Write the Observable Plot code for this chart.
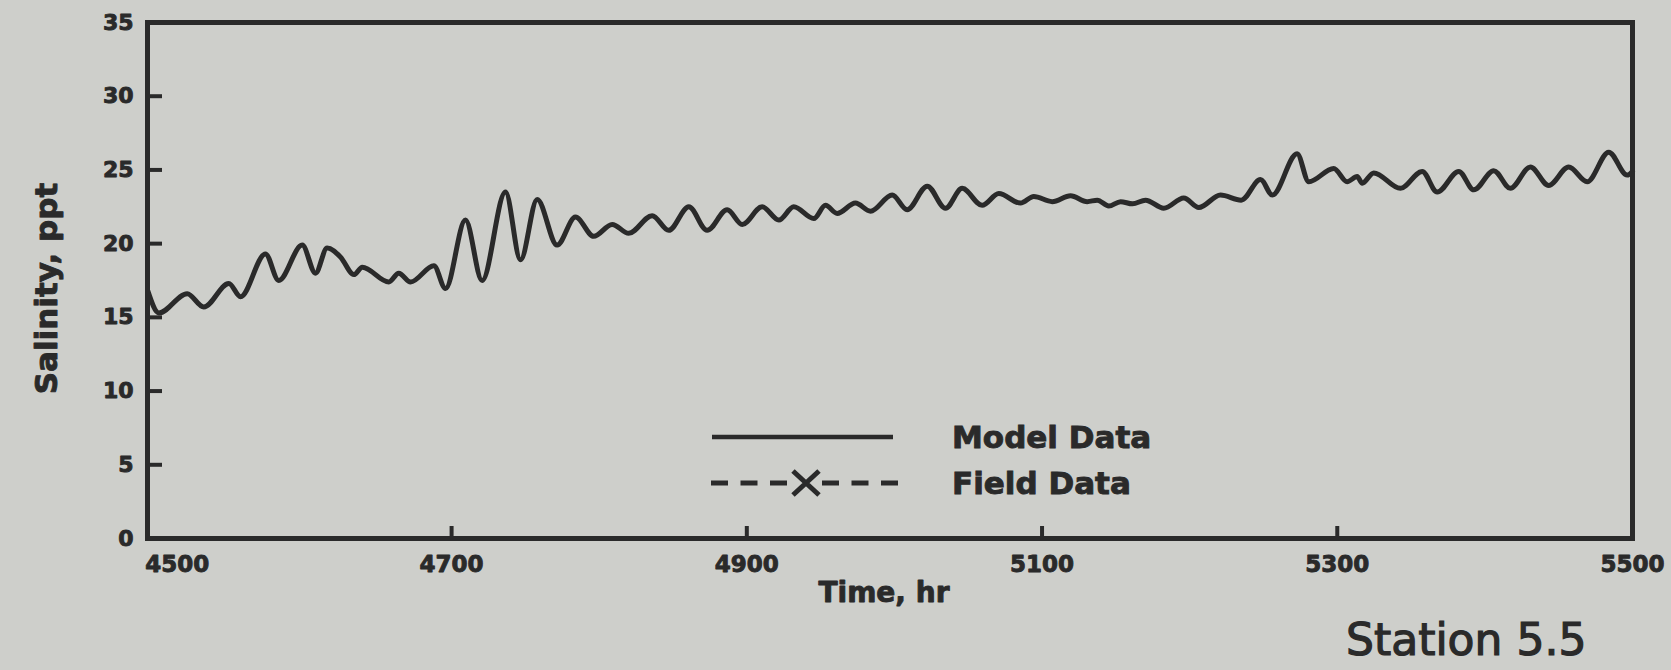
<!DOCTYPE html>
<html><head><meta charset="utf-8">
<script src="https://cdn.jsdelivr.net/npm/d3@7"></script>
<script src="https://cdn.jsdelivr.net/npm/@observablehq/plot@0.6"></script>
<style>
html,body{margin:0;padding:0;background:#cecfcb;}
#wrap{position:relative;width:1671px;height:670px;overflow:hidden;}
#station{position:absolute;left:1346px;top:618px;font-family:"DejaVu Sans";font-size:44px;line-height:44px;color:#2a2a2a;white-space:nowrap;-webkit-text-stroke:1.2px #2a2a2a;}
#legend{position:absolute;left:0;top:0;}
</style></head><body><div id="wrap"></div>
<script>
// ---- data ----
const modelHours = [4494.2,4501.7,4520.9,4532.1,4549.1,4557.0,4573.9,4582.9,4598.8,4607.8,4615.7,4624.7,4633.8,4639.5,4657.5,4664.2,4672.2,
  4688.0,4695.9,4709.4,4720.7,4736.5,4746.7,4758.0,4771.5,4783.9,4796.3,4808.8,4820.0,4835.9,4847.1,4860.7,4873.1,
  4886.7,4896.9,4910.4,4921.7,4931.8,4945.4,4953.3,4961.2,4973.6,4983.8,4998.5,5008.6,5022.2,5034.6,5045.9,5059.4,
  5070.7,5085.4,5094.4,5106.9,5119.3,5130.6,5137.4,5145.2,5153.2,5161.3,5170.1,5182.5,5196.0,5206.2,5220.9,5234.9,5248.0,5256.0,
  5272.8,5280.7,5297.6,5306.7,5313.5,5316.9,5324.7,5342.8,5357.5,5367.7,5382.3,5392.5,5406.0,5417.3,5430.8,5443.2,5456.8,5469.3,5483.9,5496.4,5500.0];
const modelSalinity = [16.8,15.3,16.6,15.7,17.3,16.4,19.3,17.5,19.9,18.0,19.7,19.1,17.9,18.4,17.4,18.0,17.4,
  18.5,16.95,21.6,17.5,23.5,18.9,23.0,19.9,21.8,20.5,21.3,20.7,21.9,20.9,22.5,20.9,
  22.3,21.3,22.5,21.6,22.5,21.7,22.6,22.05,22.75,22.2,23.3,22.3,23.9,22.4,23.75,22.6,
  23.4,22.75,23.2,22.85,23.25,22.85,22.95,22.55,22.85,22.7,22.95,22.4,23.1,22.45,23.3,22.95,24.35,23.3,
  26.1,24.2,25.1,24.2,24.55,24.1,24.8,23.75,24.9,23.5,24.9,23.65,24.95,23.75,25.2,23.95,25.2,24.2,26.2,24.65,24.9];
const fieldHours = [];      // no field observations drawn in this panel
const fieldSalinity = [];
const xTickValues = [4500,4700,4900,5100,5300,5500];
const yTickValues = [0,5,10,15,20,25,30,35];
const xLabel = "Time, hr";
const yLabel = "Salinity, ppt";
const seriesNames = ["Model Data","Field Data"];
const stationLabel = "Station 5.5";

// ---- layout ----
const ink = "#2a2a2a";
const W = 1671, H = 670, mL = 147, mR = 39, mT = 22, mB = 132;
const plotW = W - mL - mR, plotH = H - mT - mB;
const modelData = modelHours.map((t, i) => ({t, s: modelSalinity[i]}));
const fieldData = fieldHours.map((t, i) => ({t, s: fieldSalinity[i]}));
const bold = {fontWeight: "bold", fill: ink, stroke: ink, strokeWidth: 0.9};

const chart = Plot.plot({
  width: W, height: H,
  marginLeft: mL, marginRight: mR, marginTop: mT, marginBottom: mB,
  style: {background: "transparent", color: ink, fontFamily: "DejaVu Sans", overflow: "visible"},
  x: {domain: [4494, 5500], axis: null},
  y: {domain: [0, 35], axis: null},
  marks: [
    Plot.line(modelData, {x: "t", y: "s", curve: "monotone-x", stroke: ink, strokeWidth: 5, strokeLinejoin: "round"}),
    Plot.line(fieldData, {x: "t", y: "s", stroke: ink, strokeWidth: 3, strokeDasharray: "17 12"}),
    Plot.dot(fieldData, {x: "t", y: "s", symbol: "times", stroke: ink, strokeWidth: 3, r: 9}),
    Plot.tickY(yTickValues.filter(v => v > 0 && v < 35), {y: d => d, stroke: ink, strokeWidth: 4, insetRight: plotW - 15}),
    Plot.tickX(xTickValues.filter(v => v > 4500 && v < 5500), {x: d => d, stroke: ink, strokeWidth: 4, insetTop: plotH - 12}),
    Plot.frame({stroke: ink, strokeWidth: 5}),
    Plot.text(yTickValues, {y: d => d, text: d => String(d), frameAnchor: "left", textAnchor: "end", dx: -14, fontSize: 22, ...bold}),
    Plot.text(xTickValues.slice(0, 1), {x: d => d, text: d => String(d), frameAnchor: "bottom", textAnchor: "start", dx: -11, dy: 33, fontSize: 23, ...bold}),
    Plot.text(xTickValues.slice(1), {x: d => d, text: d => String(d), frameAnchor: "bottom", textAnchor: "middle", dy: 33, fontSize: 23, ...bold}),
    Plot.text([xLabel], {text: d => d, frameAnchor: "bottom", textAnchor: "middle", dx: -6, dy: 63, fontSize: 28, ...bold}),
    Plot.text([yLabel], {text: d => d, frameAnchor: "left", textAnchor: "middle", rotate: -90, dx: -100, dy: 8, fontSize: 31, letterSpacing: "3px", ...bold})
  ]
});
const wrap = document.getElementById("wrap");
wrap.appendChild(chart);

// ---- legend (overlay) ----
const lg = d3.select(wrap).append("svg").attr("id", "legend").attr("width", W).attr("height", H);
lg.append("line").attr("x1", 712).attr("x2", 893).attr("y1", 437).attr("y2", 437).attr("stroke", ink).attr("stroke-width", 4.5);
lg.append("line").attr("x1", 711).attr("x2", 788).attr("y1", 483).attr("y2", 483).attr("stroke", ink).attr("stroke-width", 5).attr("stroke-dasharray", "17 12.5");
lg.append("line").attr("x1", 822).attr("x2", 899).attr("y1", 483).attr("y2", 483).attr("stroke", ink).attr("stroke-width", 5).attr("stroke-dasharray", "17 12.5");
lg.append("path").attr("d", "M793,471L819,495M819,471L793,495").attr("stroke", ink).attr("stroke-width", 5).attr("fill", "none");
seriesNames.forEach((name, i) => {
  lg.append("text").attr("x", 952).attr("y", 437 + i * 46).attr("dy", "0.36em")
    .attr("font-family", "DejaVu Sans").attr("font-weight", "bold").attr("font-size", 31)
    .attr("fill", ink).attr("stroke", ink).attr("stroke-width", 0.9).text(name);
});

const st = document.createElement("div");
st.id = "station"; st.textContent = stationLabel;
wrap.appendChild(st);
</script>
</body></html>
